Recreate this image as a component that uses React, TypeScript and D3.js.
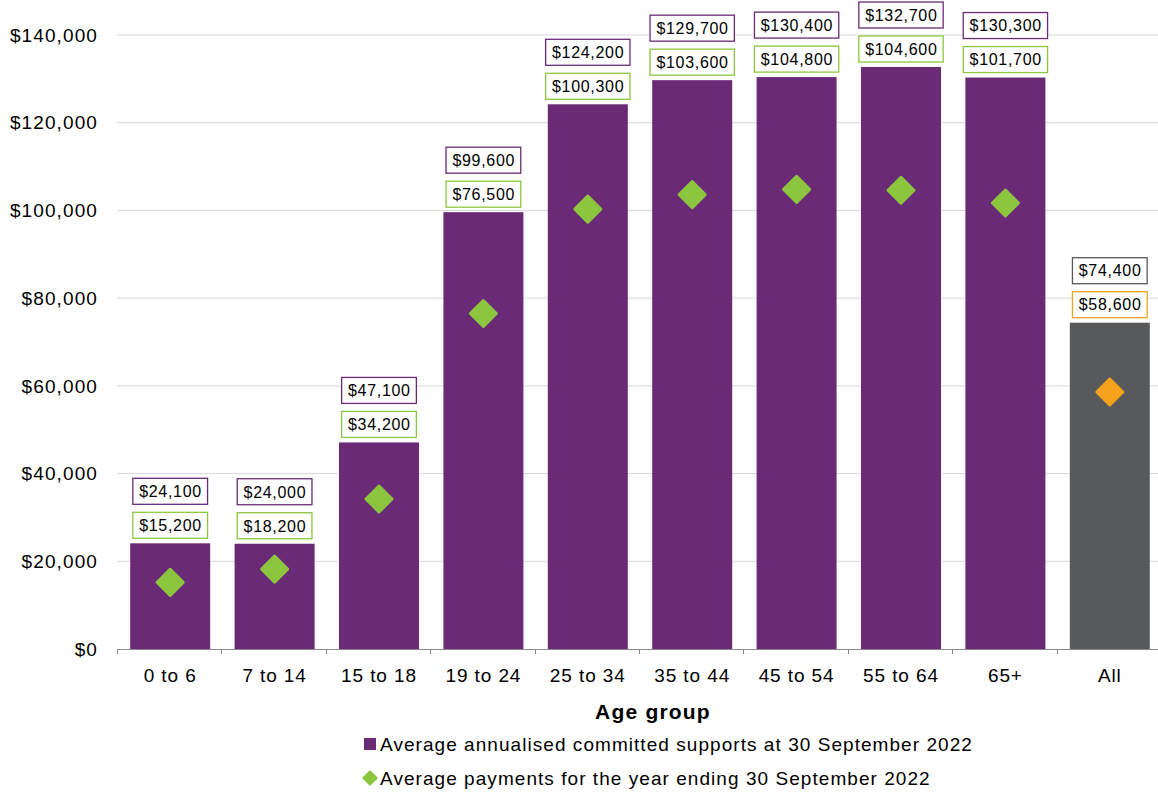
import React from "react";
import * as d3 from "d3";

const categories = ["0 to 6", "7 to 14", "15 to 18", "19 to 24", "25 to 34", "35 to 44", "45 to 54", "55 to 64", "65+", "All"];
const committed = [24100, 24000, 47100, 99600, 124200, 129700, 130400, 132700, 130300, 74400];
const payments = [15200, 18200, 34200, 76500, 100300, 103600, 104800, 104600, 101700, 58600];
const yTicks = [0, 20000, 40000, 60000, 80000, 100000, 120000, 140000];
const legendLabels = [
  "Average annualised committed supports at 30 September 2022",
  "Average payments for the year ending 30 September 2022",
];

const PURPLE = "#6b2a76";
const GREEN = "#8cc63f";
const GREY = "#58595b";
const ORANGE = "#f6a21d";
const FONT = "Liberation Sans, Arial, sans-serif";

const W = 1158;
const H = 794;

// Approximate text width for Arial-like metrics (em units per char)
function textWidth(s: string, size: number, spacing: number) {
  let em = 0;
  for (const ch of s) {
    if (ch === "," || ch === " ") em += 0.278;
    else em += 0.556;
  }
  return em * size + spacing * s.length;
}

export default function App() {
  const x = d3.scaleBand<string>().domain(categories).range([118, 1162]).padding(0);
  const y = d3.scaleLinear().domain([0, 140000]).range([649, 35]);
  const fmt = (v: number) => "$" + d3.format(",")(v);
  const barW = 80;
  const cxOf = (c: string) => x(c)! + x.bandwidth() / 2;
  const boxH = 26;
  const labelSize = 16;
  const labelSpacing = 0.7;

  return (
    <svg width={W} height={H} style={{ position: "absolute", left: 0, top: 0, fontFamily: FONT }}>
      {/* gridlines */}
      {yTicks.slice(1).map((t) => (
        <line key={t} x1={117} x2={W} y1={y(t)} y2={y(t)} stroke="#d9d9d9" strokeWidth={1} />
      ))}
      {/* y labels */}
      {yTicks.map((t) => (
        <text key={t} x={98} y={y(t)} dy="0.35em" textAnchor="end" fontSize={19} letterSpacing={1.1} fill="#000">
          {fmt(t)}
        </text>
      ))}
      {/* bars */}
      {categories.map((c, i) => (
        <rect
          key={c}
          x={cxOf(c) - barW / 2}
          y={y(committed[i])}
          width={barW}
          height={y(0) - y(committed[i])}
          fill={c === "All" ? GREY : PURPLE}
        />
      ))}
      {/* x axis */}
      <line x1={117} x2={W} y1={y(0) + 0.5} y2={y(0) + 0.5} stroke="#898989" strokeWidth={1} />
      {d3.range(categories.length + 1).map((i) => {
        const xx = Math.round(117 + i * x.step()) + 0.5;
        return <line key={i} x1={xx} x2={xx} y1={y(0)} y2={y(0) + 5} stroke="#898989" strokeWidth={1} />;
      })}
      {categories.map((c) => (
        <text key={c} x={cxOf(c)} y={682} textAnchor="middle" fontSize={19} letterSpacing={0.9} fill="#000">
          {c}
        </text>
      ))}
      {/* diamonds */}
      {categories.map((c, i) => {
        const cx = cxOf(c);
        const cy = y(payments[i]);
        const r = 13;
        const col = c === "All" ? ORANGE : GREEN;
        return (
          <path
            key={c}
            d={`M${cx},${cy - r}L${cx + r},${cy}L${cx},${cy + r}L${cx - r},${cy}Z`}
            fill={col}
            stroke={col}
            strokeWidth={3}
            strokeLinejoin="round"
          />
        );
      })}
      {/* value boxes */}
      {categories.map((c, i) => {
        const cx = cxOf(c);
        const isAll = c === "All";
        const top = y(committed[i]);
        const gBottom = top - 5;
        const pBottom = gBottom - boxH - 8;
        const pText = fmt(committed[i]);
        const gText = fmt(payments[i]);
        const wP = textWidth(pText, labelSize, labelSpacing) + 12;
        const wG = textWidth(gText, labelSize, labelSpacing) + 12;
        return (
          <g key={c}>
            <rect x={cx - wP / 2} y={pBottom - boxH} width={wP} height={boxH} fill="#fff" stroke={isAll ? GREY : PURPLE} strokeWidth={1.3} />
            <text x={cx + labelSpacing / 2} y={pBottom - boxH / 2} dy="0.36em" textAnchor="middle" fontSize={labelSize} letterSpacing={labelSpacing} fill="#000">
              {pText}
            </text>
            <rect x={cx - wG / 2} y={gBottom - boxH} width={wG} height={boxH} fill="#fff" stroke={isAll ? ORANGE : GREEN} strokeWidth={1.3} />
            <text x={cx + labelSpacing / 2} y={gBottom - boxH / 2} dy="0.36em" textAnchor="middle" fontSize={labelSize} letterSpacing={labelSpacing} fill="#000">
              {gText}
            </text>
          </g>
        );
      })}
      {/* axis title */}
      <text x={653} y={719} textAnchor="middle" fontSize={21} fontWeight="bold" letterSpacing={1.2} fill="#000">
        Age group
      </text>
      {/* legend */}
      <rect x={364} y={738} width={12} height={12} fill={PURPLE} />
      <text x={380} y={744} dy="0.35em" fontSize={19} letterSpacing={1.05} fill="#000">
        {legendLabels[0]}
      </text>
      <path d="M370,771L377,778L370,785L363,778Z" fill={GREEN} stroke={GREEN} strokeWidth={1.5} strokeLinejoin="round" />
      <text x={380} y={778} dy="0.35em" fontSize={19} letterSpacing={1.05} fill="#000">
        {legendLabels[1]}
      </text>
    </svg>
  );
}
